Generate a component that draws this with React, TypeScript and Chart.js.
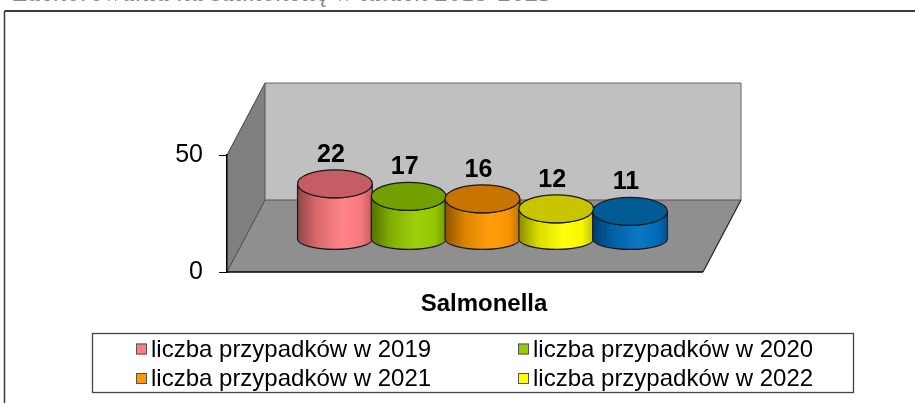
import React, { useEffect, useRef } from 'react';
import { Chart, registerables } from 'chart.js';

Chart.register(...registerables);

// ---------- data ----------
const categories = ['Salmonella'];
const seriesLabels = [
  'liczba przypadków w 2019',
  'liczba przypadków w 2020',
  'liczba przypadków w 2021',
  'liczba przypadków w 2022',
  'liczba przypadków w 2023',
];
const values2019 = [22];
const values2020 = [17];
const values2021 = [16];
const values2022 = [12];
const values2023 = [11];
const seriesValues = [values2019, values2020, values2021, values2022, values2023];
const sideColors = ['#FF7C80', '#99CC00', '#FF9900', '#FFFF00', '#0070C0'];
const topColors = ['#C65C64', '#72A000', '#C87400', '#C8C400', '#005A94'];
const yMin = 0;
const yMax = 50;
const yStep = 50;
const captionText = 'Zachorowania na salmonellę w latach 2019-2023';

// ---------- styling ----------
const FONT = '"Liberation Sans", Arial, sans-serif';
const DEPTH_X = 38;
const DEPTH_Y = -72;
const BAR_DEPTH = 0.46;
const HEIGHT_PERSPECTIVE = 1.07;

function shade(hex: string, f: number): string {
  const n = parseInt(hex.slice(1), 16);
  let r = (n >> 16) & 255;
  let g = (n >> 8) & 255;
  let b = n & 255;
  if (f <= 1) {
    r *= f; g *= f; b *= f;
  } else {
    const t = f - 1;
    r += (255 - r) * t; g += (255 - g) * t; b += (255 - b) * t;
  }
  return `rgb(${Math.round(r)},${Math.round(g)},${Math.round(b)})`;
}

function poly(ctx: CanvasRenderingContext2D, pts: number[][], fill: string) {
  ctx.beginPath();
  ctx.moveTo(pts[0][0], pts[0][1]);
  for (let i = 1; i < pts.length; i++) ctx.lineTo(pts[i][0], pts[i][1]);
  ctx.closePath();
  ctx.fillStyle = fill;
  ctx.fill();
}

function line(ctx: CanvasRenderingContext2D, x1: number, y1: number, x2: number, y2: number, color: string, w = 1) {
  ctx.beginPath();
  ctx.moveTo(x1, y1);
  ctx.lineTo(x2, y2);
  ctx.strokeStyle = color;
  ctx.lineWidth = w;
  ctx.stroke();
}

const scenePlugin = {
  id: 'scene3d',
  beforeDraw(chart: any) {
    const ctx: CanvasRenderingContext2D = chart.ctx;
    const W = chart.width;
    const H = chart.height;
    ctx.save();
    ctx.fillStyle = '#fff';
    ctx.fillRect(0, 0, W, H);

    // cut-off caption above the frame (only the bottom of the glyphs is visible)
    ctx.font = `italic 20px "Liberation Serif", serif`;
    const mw = ctx.measureText(captionText).width;
    const fs = (20 * 540) / mw;
    ctx.font = `italic ${fs.toFixed(2)}px "Liberation Serif", serif`;
    ctx.fillStyle = '#8a8a8a';
    ctx.textBaseline = 'alphabetic';
    ctx.textAlign = 'left';
    ctx.fillText(captionText, 13, 1);

    // outer frame (continues beyond the right and bottom edges)
    line(ctx, 4.5, 11, W + 2, 11, '#3a3a3a', 2);
    line(ctx, 4.5, 11, 4.5, H + 2, '#3a3a3a', 1.5);

    // 3D walls
    const a = chart.chartArea;
    const L = a.left, R = a.right, T = a.top, B = a.bottom;
    const dx = DEPTH_X, dy = DEPTH_Y;
    poly(ctx, [[L + dx, T + dy], [R + dx, T + dy], [R + dx, B + dy], [L + dx, B + dy]], '#C0C0C0');
    poly(ctx, [[L, T], [L + dx, T + dy], [L + dx, B + dy], [L, B]], '#808080');
    poly(ctx, [[L, B], [L + dx, B + dy], [R + dx, B + dy], [R, B]], '#8F8F8F');
    // edges
    line(ctx, L + dx, T + dy, R + dx, T + dy, '#666', 1);
    line(ctx, R + dx, T + dy, R + dx, B + dy, '#666', 1);
    line(ctx, L, T, L + dx, T + dy, '#444', 1);
    line(ctx, L + dx, T + dy, L + dx, B + dy, '#555', 1);
    line(ctx, L + dx, B + dy, R + dx, B + dy, '#555', 1);
    line(ctx, L, B, L + dx, B + dy, '#444', 1);
    line(ctx, R, B, R + dx, B + dy, '#222', 1.2);
    line(ctx, L, B, R, B, '#000', 1.5);
    ctx.restore();
  },
  beforeDatasetsDraw(chart: any) {
    const ctx: CanvasRenderingContext2D = chart.ctx;
    const yScale = chart.scales.y;
    const y0 = yScale.getPixelForValue(0);
    const baseY = y0 + DEPTH_Y * BAR_DEPTH;
    const shiftX = DEPTH_X * BAR_DEPTH;
    ctx.save();
    chart.data.datasets.forEach((ds: any, i: number) => {
      const meta = chart.getDatasetMeta(i);
      meta.data.forEach((el: any, j: number) => {
        const v = ds.data[j];
        const cx = el.x + shiftX;
        const rx = el.width / 2 + 0.5;
        const h = (y0 - yScale.getPixelForValue(v)) * HEIGHT_PERSPECTIVE;
        const topY = baseY - h;
        const ryT = 14;
        const ryB = 10.5;
        const side = sideColors[i];
        // side body
        const g = ctx.createLinearGradient(cx - rx, 0, cx + rx, 0);
        g.addColorStop(0, shade(side, 0.55));
        g.addColorStop(0.25, shade(side, 0.85));
        g.addColorStop(0.6, shade(side, 1.05));
        g.addColorStop(0.85, shade(side, 0.97));
        g.addColorStop(1, shade(side, 0.75));
        ctx.beginPath();
        ctx.moveTo(cx - rx, topY);
        ctx.lineTo(cx - rx, baseY);
        ctx.ellipse(cx, baseY, rx, ryB, 0, Math.PI, 0, true);
        ctx.lineTo(cx + rx, topY);
        ctx.ellipse(cx, topY, rx, ryT, 0, 0, Math.PI, false);
        ctx.closePath();
        ctx.fillStyle = g;
        ctx.fill();
        ctx.strokeStyle = '#1a1a1a';
        ctx.lineWidth = 1.2;
        ctx.stroke();
        // top cap
        ctx.beginPath();
        ctx.ellipse(cx, topY, rx, ryT, 0, 0, Math.PI * 2);
        ctx.fillStyle = topColors[i];
        ctx.fill();
        ctx.stroke();
        // value label
        ctx.font = `bold 25px ${FONT}`;
        ctx.fillStyle = '#000';
        ctx.textAlign = 'center';
        ctx.textBaseline = 'middle';
        ctx.fillText(String(v), cx - 4, topY - 29);
      });
    });
    ctx.restore();
    return false;
  },
  afterDraw(chart: any) {
    const ctx: CanvasRenderingContext2D = chart.ctx;
    const xScale = chart.scales.x;
    const a = chart.chartArea;
    ctx.save();
    // category label
    ctx.font = `bold 24px ${FONT}`;
    ctx.fillStyle = '#000';
    ctx.textAlign = 'center';
    ctx.textBaseline = 'middle';
    categories.forEach((c, k) => {
      ctx.fillText(c, xScale.getPixelForValue(k) + DEPTH_X / 2, a.bottom + 32);
    });

    // legend box
    const bx = 92.5, by = 333.5, bw = 761, bh = 59;
    ctx.fillStyle = '#fff';
    ctx.fillRect(bx, by, bw, bh);
    ctx.strokeStyle = '#444';
    ctx.lineWidth = 1.3;
    ctx.strokeRect(bx, by, bw, bh);
    ctx.save();
    ctx.beginPath();
    ctx.rect(bx + 1, by + 1, bw - 2, bh - 2);
    ctx.clip();
    const colX = [136, 518];
    const rowY0 = 349;
    const rowH = 29.5;
    ctx.font = `24px ${FONT}`;
    ctx.textAlign = 'left';
    ctx.textBaseline = 'middle';
    chart.data.datasets.forEach((ds: any, i: number) => {
      const col = i % 2;
      const row = Math.floor(i / 2);
      const x = colX[col];
      const cy = rowY0 + row * rowH;
      ctx.fillStyle = sideColors[i];
      ctx.fillRect(x, cy - 5.5, 11, 11);
      ctx.strokeStyle = '#555';
      ctx.lineWidth = 1;
      ctx.strokeRect(x + 0.5, cy - 5, 10, 10);
      ctx.fillStyle = '#000';
      ctx.fillText(ds.label, x + 15, cy + 1);
    });
    ctx.restore();
    ctx.restore();
  },
};

export default function App() {
  const ref = useRef<HTMLCanvasElement | null>(null);
  useEffect(() => {
    if (!ref.current) return;
    const chart = new Chart(ref.current, {
      type: 'bar',
      data: {
        labels: categories,
        datasets: seriesLabels.map((label, i) => ({
          label,
          data: seriesValues[i],
          backgroundColor: sideColors[i],
          borderWidth: 0,
          categoryPercentage: 0.775,
          barPercentage: 1,
        })),
      },
      options: {
        animation: false,
        responsive: false,
        maintainAspectRatio: false,
        devicePixelRatio: 1,
        layout: { padding: { left: 167, right: 212, top: 155, bottom: 131 } },
        plugins: {
          legend: { display: false },
          tooltip: { enabled: false },
          title: { display: false },
        },
        scales: {
          x: { display: false },
          y: {
            min: yMin,
            max: yMax,
            afterFit: (s: any) => { s.width = 60; },
            ticks: {
              stepSize: yStep,
              color: '#000',
              padding: 16,
              font: { family: FONT, size: 25 },
            },
            grid: { drawOnChartArea: false, drawTicks: true, tickLength: 8, color: '#000', lineWidth: 1 },
            border: { display: true, color: '#000', width: 1.5 },
          },
        },
      },
      plugins: [scenePlugin],
    });
    return () => chart.destroy();
  }, []);
  return (
    <div style={{ position: 'fixed', left: 0, top: 0, width: 915, height: 403, background: '#fff' }}>
      <canvas ref={ref} width={915} height={403} style={{ display: 'block', width: 915, height: 403 }} />
    </div>
  );
}
